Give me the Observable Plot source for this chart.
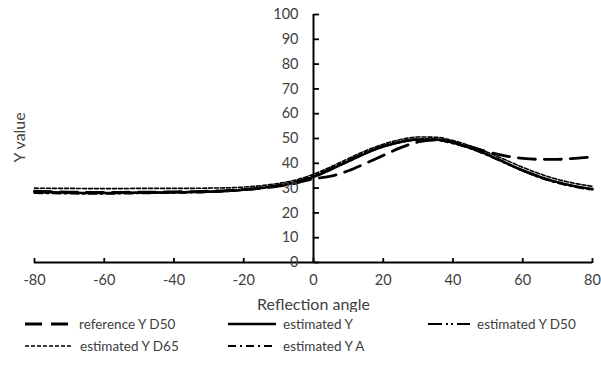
<!DOCTYPE html>
<html>
<head>
<meta charset="utf-8">
<script src="https://cdn.jsdelivr.net/npm/d3@7"></script>
<script src="https://cdn.jsdelivr.net/npm/@observablehq/plot@0.6"></script>
<style>
  body { margin: 0; background: #fff; font-family: Lato, "Open Sans", sans-serif; }
  #wrap { width: 601px; height: 368px; position: relative; overflow: hidden; }
  #legend { position: absolute; left: 0; top: 312px; width: 601px; height: 56px; }
  .item { position: absolute; height: 20px; display: flex; align-items: center; font-size: 13.5px; color: #404040; white-space: nowrap; }
  .item svg { margin-right: 7px; }
</style>
</head>
<body>
<div id="wrap">
  <div id="chart"></div>
  <div id="legend"></div>
</div>
<script>
const angles = [-80,-75,-70,-65,-60,-55,-50,-45,-40,-35,-30,-25,-20,-15,-10,-5,0,5,10,15,20,25,30,35,40,45,50,55,60,65,70,75,80];
const refD50 = [28.8,28.6,28.4,28.3,28.3,28.3,28.4,28.4,28.5,28.6,28.8,29.0,29.4,30.0,30.8,32.0,33.8,34.8,37.0,40.0,43.2,46.3,48.6,49.4,48.6,46.6,44.6,43.0,42.0,41.6,41.6,42.0,42.6];
const estY = [28.5,28.3,28.2,28.0,28.0,28.1,28.2,28.2,28.3,28.4,28.5,28.8,29.3,30.0,31.0,32.3,34.5,37.5,40.8,44.0,46.7,48.6,49.6,49.6,48.3,46.2,43.5,40.3,37.2,34.5,32.4,30.8,29.6];
const estD50 = [28.3,28.2,28.1,28.0,28.0,28.0,28.1,28.2,28.3,28.4,28.6,28.9,29.5,30.3,31.3,32.7,35.0,38.0,41.3,44.5,47.1,48.9,49.8,49.7,48.4,46.1,43.3,40.1,37.0,34.3,32.2,30.6,29.4];
const estD65 = [30.0,29.9,29.9,29.8,29.8,29.8,29.9,29.9,29.9,29.9,30.0,30.1,30.4,31.0,31.9,33.3,35.6,38.6,41.9,45.1,47.7,49.6,50.6,50.5,49.2,47.0,44.4,41.4,38.4,35.7,33.5,31.9,30.7];
const estA = [28.0,27.9,27.8,27.7,27.7,27.8,27.9,28.0,28.1,28.2,28.4,28.7,29.2,29.9,30.9,32.3,34.6,37.6,40.9,44.1,46.7,48.5,49.4,49.3,48.0,45.9,43.2,40.1,37.0,34.2,32.1,30.5,29.3];
const seriesNames = ["reference Y D50","estimated Y","estimated Y D50","estimated Y D65","estimated Y A"];
const xTicks = [-80,-60,-40,-20,0,20,40,60,80];
const yTicks = [0,10,20,30,40,50,60,70,80,90,100];
const xTitle = "Reflection angle";
const yTitle = "Y value";

const styles = {
  "reference Y D50": {strokeWidth: 2.8, dash: "17 9"},
  "estimated Y": {strokeWidth: 2.5, dash: null},
  "estimated Y D50": {strokeWidth: 2, dash: "14 4 2 3 2 4"},
  "estimated Y D65": {strokeWidth: 1.6, dash: "4 2"},
  "estimated Y A": {strokeWidth: 2, dash: "8 4 2 4"}
};
const seriesValues = [refD50, estY, estD50, estD65, estA];
const rows = seriesNames.map((name, i) => angles.map((a, j) => ({series: name, x: a, y: seriesValues[i][j]})));

const lineMarks = rows.map((data, i) => {
  const s = styles[seriesNames[i]];
  return Plot.line(data, {x: "x", y: "y", stroke: "#000", strokeWidth: s.strokeWidth,
    strokeDasharray: s.dash, curve: "monotone-x"});
});

const labelColor = "#404040";
const fmt = d => String(d);
const plot = Plot.plot({
  width: 601,
  height: 312,
  marginLeft: 34,
  marginRight: 9,
  marginTop: 14,
  marginBottom: 50,
  style: {fontFamily: "Lato, 'Open Sans', sans-serif", fontSize: "14.5px", background: "#fff"},
  x: {domain: [-80, 80]},
  y: {domain: [0, 100]},
  marks: [
    ...lineMarks,
    Plot.ruleY([0], {stroke: "#000", strokeWidth: 2}),
    Plot.ruleX([0], {stroke: "#000", strokeWidth: 2}),
    Plot.axisX(xTicks, {anchor: "top", y: 0, tickSize: 5, fill: "none", label: null, stroke: "#000", strokeWidth: 1.8}),
    Plot.axisX(xTicks, {anchor: "bottom", tickSize: 0, tickPadding: 12, label: null, fill: labelColor, stroke: "none", tickFormat: fmt}),
    Plot.axisY(yTicks, {x: 0, anchor: "right", tickSize: 5, fill: "none", label: null, stroke: "#000", strokeWidth: 1.8}),
    Plot.axisY(yTicks, {x: 0, anchor: "left", tickSize: 0, tickPadding: 15, label: null, fill: labelColor, stroke: "none", tickFormat: fmt}),
    Plot.text([xTitle], {frameAnchor: "bottom", dy: 47, fill: labelColor, fontSize: 16}),
    Plot.text([yTitle], {frameAnchor: "left", dx: -15, dy: 24, rotate: -90, fill: labelColor, fontSize: 16})
  ]
});
document.getElementById("chart").appendChild(plot);

// legend
const legendPos = [
  {left: 25, top: 2, w: 47},
  {left: 228, top: 2, w: 48},
  {left: 428, top: 2, w: 42},
  {left: 25, top: 24, w: 48},
  {left: 228, top: 24, w: 48}
];
const legend = document.getElementById("legend");
seriesNames.forEach((name, i) => {
  const p = legendPos[i];
  const s = styles[name];
  const div = document.createElement("div");
  div.className = "item";
  div.style.left = p.left + "px";
  div.style.top = p.top + "px";
  div.innerHTML = `<svg width="${p.w}" height="10"><line x1="0" x2="${p.w}" y1="5" y2="5" stroke="#000" stroke-width="${s.strokeWidth}" ${s.dash ? `stroke-dasharray="${s.dash}"` : ""}/></svg><span>${name}</span>`;
  legend.appendChild(div);
});
</script>
</body>
</html>
